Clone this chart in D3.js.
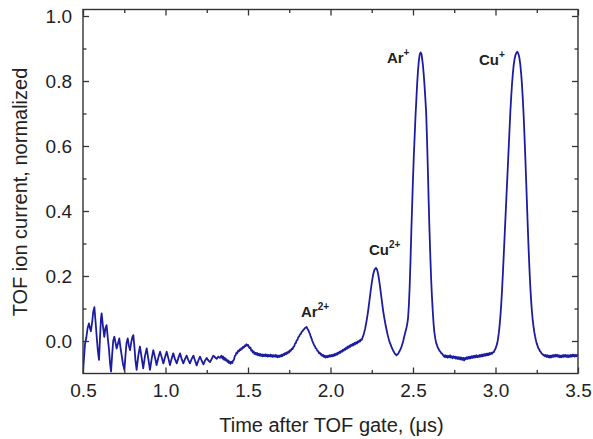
<!DOCTYPE html>
<html>
<head>
<meta charset="utf-8">
<script src="https://cdn.jsdelivr.net/npm/d3@7"></script>
<style>
  html, body { margin: 0; padding: 0; background: #fff; }
  svg { display: block; }
  text { font-family: "Liberation Sans", Arial, sans-serif; fill: #222; }
</style>
</head>
<body>
<svg id="chart" width="593" height="439"></svg>
<script>
// ---- data ----
const xTicks = [0.5, 1.0, 1.5, 2.0, 2.5, 3.0, 3.5];
const xMinorTicks = [0.75, 1.25, 1.75, 2.25, 2.75, 3.25];
const yTicks = [0.0, 0.2, 0.4, 0.6, 0.8, 1.0];
const yMinorTicks = [0.1, 0.3, 0.5, 0.7, 0.9];

const xTitle = "Time after TOF gate, (\u03bcs)";
const yTitle = "TOF ion current, normalized";

// peak labels: [base, superscript, time (us), value]
const peakLabels = [
  ["Ar", "2+", 1.821, 0.074],
  ["Cu", "2+", 2.233, 0.265],
  ["Ar", "+", 2.342, 0.855],
  ["Cu", "+", 2.900, 0.849]
];

// TOF trace: [time (us), normalized current]
const ringing = [
  [0.500,-0.095],[0.505,-0.060],[0.512,-0.010],[0.520,0.010],[0.528,0.040],[0.536,0.054],
  [0.542,0.040],[0.548,0.030],[0.556,0.060],[0.562,0.090],[0.569,0.104],[0.576,0.060],
  [0.583,0.013],[0.590,-0.030],[0.597,-0.058],[0.604,0.020],[0.609,0.070],[0.613,0.085],
  [0.620,0.050],[0.629,0.013],[0.636,0.040],[0.643,0.049],[0.650,0.010],[0.658,-0.028],
  [0.664,-0.070],[0.670,-0.094],[0.677,-0.040],[0.683,0.000],[0.690,0.013],[0.697,-0.005],
  [0.704,-0.023],[0.712,-0.008],[0.720,0.008],[0.727,-0.020],[0.734,-0.043],[0.742,-0.070],
  [0.751,-0.089],[0.758,-0.040],[0.764,-0.005],[0.771,0.008],[0.778,-0.015],[0.785,-0.028],
  [0.792,-0.005],[0.799,0.012],[0.805,0.018],[0.812,-0.020],[0.818,-0.060],[0.825,-0.089],
  [0.835,-0.045],[0.845,-0.017],[0.855,-0.050],[0.865,-0.084],[0.876,-0.045],[0.886,-0.023],
  [0.896,-0.055],[0.906,-0.089],[0.916,-0.055],[0.926,-0.028],[0.936,-0.050],[0.946,-0.074],
  [0.957,-0.050],[0.967,-0.033],[0.977,-0.050],[0.987,-0.069],[0.997,-0.050],[1.007,-0.033],
  [1.017,-0.052],[1.027,-0.074],[1.037,-0.055],[1.047,-0.038],[1.057,-0.055],[1.068,-0.069],
  [1.078,-0.052],[1.088,-0.038],[1.098,-0.055],[1.108,-0.069],[1.118,-0.056],[1.128,-0.045],
  [1.138,-0.058],[1.148,-0.069],[1.158,-0.056],[1.169,-0.045],[1.179,-0.060],[1.189,-0.075],
  [1.199,-0.060],[1.209,-0.048],[1.219,-0.060],[1.230,-0.072],[1.240,-0.060],[1.250,-0.052],
  [1.260,-0.060],[1.270,-0.065],[1.280,-0.055],[1.290,-0.045],[1.300,-0.050],[1.310,-0.055],
  [1.320,-0.048],[1.330,-0.052],[1.340,-0.045]
];
const lowMass = [
  [1.345,-0.054],[1.350,-0.048],[1.355,-0.058],[1.360,-0.052],[1.365,-0.060],[1.370,-0.056],
  [1.375,-0.064],[1.380,-0.060],[1.385,-0.068],[1.390,-0.063],[1.395,-0.070],[1.400,-0.064],
  [1.405,-0.068],[1.410,-0.060],[1.415,-0.058],[1.420,-0.046],[1.425,-0.044],[1.430,-0.036],
  [1.435,-0.038],[1.440,-0.030],[1.445,-0.032],[1.450,-0.026],[1.455,-0.028],[1.460,-0.022],
  [1.465,-0.024],[1.470,-0.018],[1.475,-0.020],[1.480,-0.014],[1.485,-0.016],[1.490,-0.010],
  [1.495,-0.014],[1.500,-0.012],[1.505,-0.018],[1.510,-0.022],[1.515,-0.020],[1.520,-0.030],
  [1.525,-0.028],[1.530,-0.036],[1.535,-0.032],[1.540,-0.040],[1.545,-0.036],[1.550,-0.042],
  [1.555,-0.037],[1.560,-0.044],[1.565,-0.039],[1.570,-0.045],[1.575,-0.040],[1.580,-0.046],
  [1.585,-0.041],[1.590,-0.047],[1.595,-0.042],[1.600,-0.046],[1.605,-0.041],[1.610,-0.047],
  [1.615,-0.042],[1.620,-0.048],[1.625,-0.043],[1.630,-0.047],[1.635,-0.042],[1.640,-0.048],
  [1.645,-0.043],[1.650,-0.049],[1.655,-0.044],[1.660,-0.048],[1.665,-0.043],[1.670,-0.049],
  [1.675,-0.044],[1.680,-0.050],[1.685,-0.045],[1.690,-0.049],[1.695,-0.044],[1.700,-0.048],
  [1.705,-0.042],[1.710,-0.046],[1.715,-0.040],[1.720,-0.043],[1.725,-0.037],[1.730,-0.041],
  [1.735,-0.035],[1.740,-0.038],[1.745,-0.032],[1.750,-0.035],[1.755,-0.028],[1.760,-0.030],
  [1.765,-0.024],[1.770,-0.025],[1.775,-0.018],[1.780,-0.017],[1.785,-0.008],[1.790,-0.006],
  [1.795,0.002],[1.800,0.004],[1.805,0.012],[1.810,0.014],[1.815,0.020],[1.820,0.022],
  [1.825,0.028],[1.830,0.030],[1.835,0.034],[1.840,0.036],[1.845,0.040],[1.850,0.041],
  [1.855,0.043],[1.860,0.038],[1.865,0.034],[1.870,0.028],[1.875,0.022],[1.880,0.014],
  [1.885,0.008],[1.890,0.000],[1.895,-0.006],[1.900,-0.012],[1.905,-0.016],[1.910,-0.022],
  [1.915,-0.024],[1.920,-0.030],[1.925,-0.031],[1.930,-0.037],[1.935,-0.036],[1.940,-0.042],
  [1.945,-0.040],[1.950,-0.046],[1.955,-0.043],[1.960,-0.049],[1.965,-0.045],[1.970,-0.051],
  [1.975,-0.046],[1.980,-0.050],[1.985,-0.045],[1.990,-0.049],[1.995,-0.044],[2.000,-0.048],
  [2.005,-0.043],[2.010,-0.047],[2.015,-0.042],[2.020,-0.046],[2.025,-0.040],[2.030,-0.044],
  [2.035,-0.038],[2.040,-0.042],[2.045,-0.036],[2.050,-0.039],[2.055,-0.033],[2.060,-0.036],
  [2.065,-0.030],[2.070,-0.033],[2.075,-0.027],[2.080,-0.030],[2.085,-0.024],[2.090,-0.027],
  [2.095,-0.020],[2.100,-0.024],[2.105,-0.017],[2.110,-0.021],[2.115,-0.014],[2.120,-0.018],
  [2.125,-0.011],[2.130,-0.015],[2.135,-0.009],[2.140,-0.013],[2.145,-0.006],[2.150,-0.010],
  [2.155,-0.004],[2.160,-0.008],[2.165,-0.001],[2.170,-0.004],[2.175,0.002],[2.180,-0.001],
  [2.185,0.005],[2.190,0.004]
];
const mainPeaks = [
  [2.195,0.012],[2.200,0.018],[2.205,0.028],[2.210,0.038],[2.215,0.052],[2.220,0.066],
  [2.225,0.082],[2.230,0.100],[2.235,0.120],[2.240,0.140],[2.245,0.160],[2.250,0.178],
  [2.255,0.194],[2.260,0.208],[2.265,0.217],[2.270,0.222],[2.276,0.225],[2.282,0.220],
  [2.288,0.208],[2.294,0.190],[2.300,0.168],[2.305,0.148],[2.310,0.128],[2.315,0.108],
  [2.320,0.090],[2.325,0.074],[2.330,0.060],[2.335,0.046],[2.340,0.034],[2.345,0.022],
  [2.350,0.012],[2.355,0.002],[2.360,-0.006],[2.365,-0.012],[2.370,-0.019],[2.375,-0.024],
  [2.380,-0.030],[2.385,-0.034],[2.390,-0.039],[2.395,-0.041],[2.400,-0.044],[2.405,-0.041],
  [2.410,-0.040],[2.415,-0.034],[2.420,-0.030],[2.425,-0.024],[2.430,-0.018],[2.435,-0.010],
  [2.440,-0.002],[2.445,0.010],[2.450,0.020],[2.455,0.030],[2.460,0.040],[2.465,0.052],
  [2.470,0.070],[2.475,0.110],[2.480,0.170],[2.485,0.250],[2.490,0.340],[2.495,0.420],
  [2.500,0.500],[2.505,0.570],[2.510,0.630],[2.515,0.690],[2.520,0.740],[2.525,0.790],
  [2.530,0.830],[2.535,0.860],[2.540,0.880],[2.546,0.888],[2.552,0.882],[2.556,0.866],
  [2.560,0.850],[2.565,0.820],[2.570,0.785],[2.575,0.745],[2.580,0.700],[2.585,0.620],
  [2.590,0.530],[2.595,0.430],[2.600,0.340],[2.605,0.260],[2.610,0.190],[2.615,0.135],
  [2.620,0.090],[2.625,0.052],[2.630,0.025],[2.635,0.008],[2.640,-0.005],[2.645,-0.012],
  [2.650,-0.020],[2.655,-0.024],[2.660,-0.030],[2.665,-0.032],[2.670,-0.037],[2.675,-0.038],
  [2.680,-0.042],
  [2.685,-0.045],[2.690,-0.049],[2.695,-0.044],[2.700,-0.050],[2.705,-0.045],[2.710,-0.051],
  [2.715,-0.046],[2.720,-0.050],[2.725,-0.044],[2.730,-0.051],[2.735,-0.047],[2.740,-0.053],
  [2.745,-0.047],[2.750,-0.052],[2.755,-0.048],[2.760,-0.054],[2.765,-0.049],[2.770,-0.055],
  [2.775,-0.050],[2.780,-0.056],[2.785,-0.050],[2.790,-0.057],[2.795,-0.051],[2.800,-0.058],
  [2.805,-0.052],[2.810,-0.060],[2.815,-0.052],[2.820,-0.056],[2.825,-0.050],[2.830,-0.055],
  [2.835,-0.049],[2.840,-0.054],[2.845,-0.048],[2.850,-0.053],[2.855,-0.047],[2.860,-0.052],
  [2.865,-0.046],[2.870,-0.051],[2.875,-0.045],[2.880,-0.050],[2.885,-0.044],[2.890,-0.050],
  [2.895,-0.045],[2.900,-0.049],[2.905,-0.043],[2.910,-0.048],[2.915,-0.042],[2.920,-0.047],
  [2.925,-0.041],[2.930,-0.046],[2.935,-0.040],[2.940,-0.045],[2.945,-0.039],[2.950,-0.044],
  [2.955,-0.038],[2.960,-0.043],[2.965,-0.037],[2.970,-0.041],[2.975,-0.036],[2.980,-0.039],
  [2.985,-0.034],
  [2.990,-0.034],[2.995,-0.028],[3.000,-0.024],[3.005,-0.016],[3.010,-0.008],[3.015,0.006],
  [3.020,0.024],[3.025,0.048],[3.030,0.078],[3.035,0.115],[3.040,0.160],[3.045,0.210],
  [3.050,0.265],[3.055,0.320],[3.060,0.375],[3.065,0.430],[3.070,0.485],[3.075,0.540],
  [3.080,0.595],[3.085,0.650],[3.090,0.705],[3.095,0.750],[3.100,0.790],[3.105,0.822],
  [3.110,0.848],[3.115,0.866],[3.120,0.878],[3.126,0.886],[3.132,0.890],[3.138,0.885],
  [3.144,0.874],[3.150,0.852],[3.155,0.826],[3.160,0.792],[3.165,0.750],[3.170,0.700],
  [3.175,0.640],[3.180,0.575],[3.185,0.505],[3.190,0.432],[3.195,0.360],[3.200,0.292],
  [3.205,0.230],[3.210,0.176],[3.215,0.132],[3.220,0.096],[3.225,0.068],[3.230,0.046],
  [3.235,0.028],[3.240,0.014],[3.245,0.002],[3.250,-0.008],[3.255,-0.015],[3.260,-0.022],
  [3.265,-0.026],[3.270,-0.032],[3.275,-0.034],[3.280,-0.039],[3.285,-0.040],[3.290,-0.044],
  [3.295,-0.043],
  [3.300,-0.047],[3.305,-0.043],[3.310,-0.049],[3.315,-0.044],[3.320,-0.050],[3.325,-0.045],
  [3.330,-0.051],[3.335,-0.045],[3.340,-0.050],[3.345,-0.044],[3.350,-0.049],[3.355,-0.043],
  [3.360,-0.048],[3.365,-0.042],[3.370,-0.047],[3.375,-0.043],[3.380,-0.049],[3.385,-0.044],
  [3.390,-0.050],[3.395,-0.045],[3.400,-0.050],[3.405,-0.044],[3.410,-0.049],[3.415,-0.043],
  [3.420,-0.048],[3.425,-0.043],[3.430,-0.049],[3.435,-0.044],[3.440,-0.050],[3.445,-0.044],
  [3.450,-0.049],[3.455,-0.043],[3.460,-0.048],[3.465,-0.042],[3.470,-0.047],[3.475,-0.042],
  [3.480,-0.048],[3.485,-0.043],[3.490,-0.047],[3.495,-0.042],[3.500,-0.046]
];
const trace = ringing.concat(lowMass, mainPeaks);

// ---- layout ----
const svg = d3.select("#chart");
const L = 83, R = 578, T = 9.5, B = 373.5;
const x = d3.scaleLinear().domain([0.5, 3.5]).range([L, R]);
const y = d3.scaleLinear().domain([-0.1, 1.02]).range([B, T]);
const axisColor = "#333";
const fmt = d3.format(".1f");

svg.append("defs").append("clipPath").attr("id", "plotclip")
  .append("rect").attr("x", L).attr("y", T).attr("width", R - L).attr("height", B - T);

// trace
svg.append("path")
  .datum(trace)
  .attr("clip-path", "url(#plotclip)")
  .attr("fill", "none")
  .attr("stroke", "#1c1ca0")
  .attr("stroke-width", 1.8)
  .attr("stroke-linejoin", "round")
  .attr("d", d3.line().x(d => x(d[0])).y(d => y(d[1])).curve(d3.curveLinear));

function styleAxis(g) {
  g.select(".domain").remove();
  g.selectAll(".tick line").attr("stroke", axisColor).attr("stroke-width", 1.3);
  g.selectAll("text").attr("fill", "#222").attr("font-family", "Liberation Sans, Arial, sans-serif")
    .attr("font-size", 19);
}

// bottom axis
svg.append("g").attr("transform", `translate(0,${B})`)
  .call(d3.axisBottom(x).tickValues(xTicks).tickFormat(fmt).tickSizeInner(-6).tickSizeOuter(0).tickPadding(10))
  .call(styleAxis);
svg.append("g").attr("transform", `translate(0,${B})`)
  .call(d3.axisBottom(x).tickValues(xMinorTicks).tickFormat("").tickSizeInner(-3.5).tickSizeOuter(0))
  .call(styleAxis);
// top axis
svg.append("g").attr("transform", `translate(0,${T})`)
  .call(d3.axisTop(x).tickValues(xTicks).tickFormat("").tickSizeInner(-6).tickSizeOuter(0))
  .call(styleAxis);
svg.append("g").attr("transform", `translate(0,${T})`)
  .call(d3.axisTop(x).tickValues(xMinorTicks).tickFormat("").tickSizeInner(-3.5).tickSizeOuter(0))
  .call(styleAxis);
// left axis
svg.append("g").attr("transform", `translate(${L},0)`)
  .call(d3.axisLeft(y).tickValues(yTicks).tickFormat(fmt).tickSizeInner(-6).tickSizeOuter(0).tickPadding(11))
  .call(styleAxis);
svg.append("g").attr("transform", `translate(${L},0)`)
  .call(d3.axisLeft(y).tickValues(yMinorTicks).tickFormat("").tickSizeInner(-3.5).tickSizeOuter(0))
  .call(styleAxis);
// right axis
svg.append("g").attr("transform", `translate(${R},0)`)
  .call(d3.axisRight(y).tickValues(yTicks).tickFormat("").tickSizeInner(-6).tickSizeOuter(0))
  .call(styleAxis);
svg.append("g").attr("transform", `translate(${R},0)`)
  .call(d3.axisRight(y).tickValues(yMinorTicks).tickFormat("").tickSizeInner(-3.5).tickSizeOuter(0))
  .call(styleAxis);

// frame
svg.append("rect").attr("x", L).attr("y", T).attr("width", R - L).attr("height", B - T)
  .attr("fill", "none").attr("stroke", axisColor).attr("stroke-width", 1.4);

// axis titles
svg.append("text").attr("x", (L + R) / 2 + 1).attr("y", 432)
  .attr("text-anchor", "middle").attr("font-size", 20).text(xTitle);
svg.append("text").attr("transform", "translate(27,192) rotate(-90)")
  .attr("text-anchor", "middle").attr("font-size", 20).text(yTitle);

// peak labels
const lab = svg.append("g").attr("font-weight", "bold");
peakLabels.forEach(([base, sup, t, v]) => {
  const tx = lab.append("text").attr("x", x(t)).attr("y", y(v)).attr("font-size", 15);
  tx.append("tspan").text(base);
  tx.append("tspan").attr("dy", -7).attr("font-size", 10).text(sup);
});
</script>
</body>
</html>
